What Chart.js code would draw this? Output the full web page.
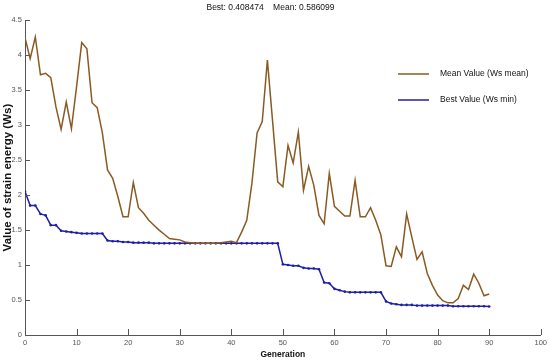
<!DOCTYPE html>
<html>
<head>
<meta charset="utf-8">
<script src="https://cdn.jsdelivr.net/npm/chart.js@4.4.1/dist/chart.umd.min.js"></script>
<style>
html,body{margin:0;padding:0;background:#fff;}
#wrap{width:550px;height:364px;}
</style>
</head>
<body>
<div id="wrap"><canvas id="c" width="550" height="364"></canvas></div>
<script>
const generations = [0,1,2,3,4,5,6,7,8,9,10,11,12,13,14,15,16,17,18,19,20,21,22,23,24,25,26,27,28,29,30,31,32,33,34,35,36,37,38,39,40,41,42,43,44,45,46,47,48,49,50,51,52,53,54,55,56,57,58,59,60,61,62,63,64,65,66,67,68,69,70,71,72,73,74,75,76,77,78,79,80,81,82,83,84,85,86,87,88,89,90];
const meanValues = [4.25,3.95,4.26,3.72,3.74,3.68,3.26,2.94,3.33,2.95,3.55,4.18,4.09,3.32,3.25,2.89,2.36,2.24,1.98,1.69,1.69,2.18,1.82,1.74,1.64,1.57,1.50,1.44,1.38,1.37,1.36,1.33,1.32,1.31,1.31,1.31,1.31,1.31,1.32,1.33,1.34,1.32,1.47,1.64,2.17,2.89,3.05,3.93,3.06,2.19,2.12,2.71,2.46,2.90,2.07,2.41,2.14,1.71,1.59,2.31,1.84,1.77,1.70,1.70,2.21,1.69,1.69,1.82,1.64,1.43,0.99,0.98,1.26,1.12,1.73,1.40,1.08,1.19,0.88,0.71,0.57,0.49,0.46,0.46,0.52,0.71,0.65,0.87,0.74,0.56,0.586];
const bestValues = [2.05,1.85,1.85,1.73,1.71,1.57,1.57,1.49,1.48,1.47,1.46,1.45,1.45,1.45,1.45,1.45,1.35,1.34,1.34,1.33,1.33,1.32,1.32,1.32,1.32,1.31,1.31,1.31,1.31,1.31,1.31,1.31,1.31,1.31,1.31,1.31,1.31,1.31,1.31,1.31,1.31,1.31,1.31,1.31,1.31,1.31,1.31,1.31,1.31,1.31,1.01,1.00,0.99,0.99,0.96,0.95,0.95,0.94,0.75,0.74,0.66,0.64,0.62,0.61,0.61,0.61,0.61,0.61,0.61,0.61,0.48,0.45,0.44,0.43,0.43,0.43,0.42,0.42,0.42,0.42,0.42,0.42,0.42,0.41,0.41,0.41,0.41,0.41,0.41,0.41,0.408];
const xTicks = [0,10,20,30,40,50,60,70,80,90,100];
const yTicks = [0,0.5,1,1.5,2,2.5,3,3.5,4,4.5];
const seriesNames = ['Mean Value (Ws mean)', 'Best Value (Ws min)'];
const titleText = 'Best: 0.408474    Mean: 0.586099';
const xTitle = 'Generation';
const yTitle = 'Value of strain energy (Ws)';

const sans = "'Liberation Sans', Arial, sans-serif";

const innerTicks = {
  id: 'innerTicks',
  afterDraw(chart) {
    const ctx = chart.ctx, xs = chart.scales.x, ys = chart.scales.y;
    ctx.save();
    ctx.strokeStyle = '#555';
    ctx.lineWidth = 1;
    ctx.beginPath();
    xTicks.forEach(v => {
      const px = Math.round(xs.getPixelForValue(v)) + 0.5;
      ctx.moveTo(px, ys.bottom); ctx.lineTo(px, ys.bottom - 6);
    });
    yTicks.forEach(v => {
      const py = Math.round(ys.getPixelForValue(v)) + 0.5;
      ctx.moveTo(xs.left, py); ctx.lineTo(xs.left + 5, py);
    });
    ctx.stroke();
    ctx.restore();
  }
};

const customLegend = {
  id: 'customLegend',
  afterDraw(chart) {
    const ctx = chart.ctx;
    ctx.save();
    chart.data.datasets.forEach((ds, i) => {
      const y = 74 + i * 26;
      ctx.strokeStyle = ds.borderColor;
      ctx.lineWidth = 1.5;
      ctx.beginPath();
      ctx.moveTo(398, y); ctx.lineTo(429, y);
      ctx.stroke();
      ctx.fillStyle = '#111';
      ctx.font = "8.5px " + sans;
      ctx.textBaseline = 'middle';
      ctx.textAlign = 'left';
      ctx.fillText(ds.label, 440, y);
    });
    ctx.restore();
  }
};

new Chart(document.getElementById('c'), {
  type: 'line',
  data: {
    datasets: [
      {
        label: seriesNames[0],
        data: generations.map((g, i) => ({x: g, y: meanValues[i]})),
        borderColor: '#8a5a22',
        borderWidth: 1.5,
        pointRadius: 0,
        tension: 0
      },
      {
        label: seriesNames[1],
        data: generations.map((g, i) => ({x: g, y: bestValues[i]})),
        borderColor: '#1f1fa6',
        backgroundColor: '#1f1fa6',
        borderWidth: 1.5,
        pointRadius: 1.3,
        pointBorderWidth: 0,
        tension: 0
      }
    ]
  },
  options: {
    responsive: false,
    animation: false,
    devicePixelRatio: 1,
    layout: { padding: { left: 0, right: 9, top: 0, bottom: 0 } },
    plugins: {
      legend: { display: false },
      tooltip: { enabled: false },
      title: {
        display: true,
        text: titleText,
        color: '#111',
        font: { family: sans, size: 8.5, weight: 'normal' },
        padding: { top: 3, bottom: 7 }
      }
    },
    scales: {
      x: {
        type: 'linear',
        min: 0, max: 100,
        afterBuildTicks(s) { s.ticks = xTicks.map(v => ({value: v})); },
        afterFit(s) { s.height = 29; },
        grid: { display: true, drawOnChartArea: false, drawTicks: false },
        border: { display: true, color: '#555', width: 1 },
        ticks: { color: '#555', padding: 3, font: { family: sans, size: 7.5 }, maxRotation: 0, callback: v => String(v) },
        title: { display: true, text: xTitle, color: '#111', font: { family: sans, size: 8.5, weight: 'bold' }, padding: { top: 4, bottom: 4 } }
      },
      y: {
        type: 'linear',
        min: 0, max: 4.5,
        afterBuildTicks(s) { s.ticks = yTicks.map(v => ({value: v})); },
        afterFit(s) { s.width = 25; },
        grid: { display: true, drawOnChartArea: false, drawTicks: false },
        border: { display: true, color: '#555', width: 1 },
        ticks: { color: '#555', padding: 3, font: { family: sans, size: 7.5 }, callback: v => String(v) },
        title: { display: true, text: yTitle, color: '#111', font: { family: sans, size: 11.5, weight: 'bold' }, padding: { top: 1, bottom: 4 } }
      }
    }
  },
  plugins: [innerTicks, customLegend]
});
</script>
</body>
</html>
